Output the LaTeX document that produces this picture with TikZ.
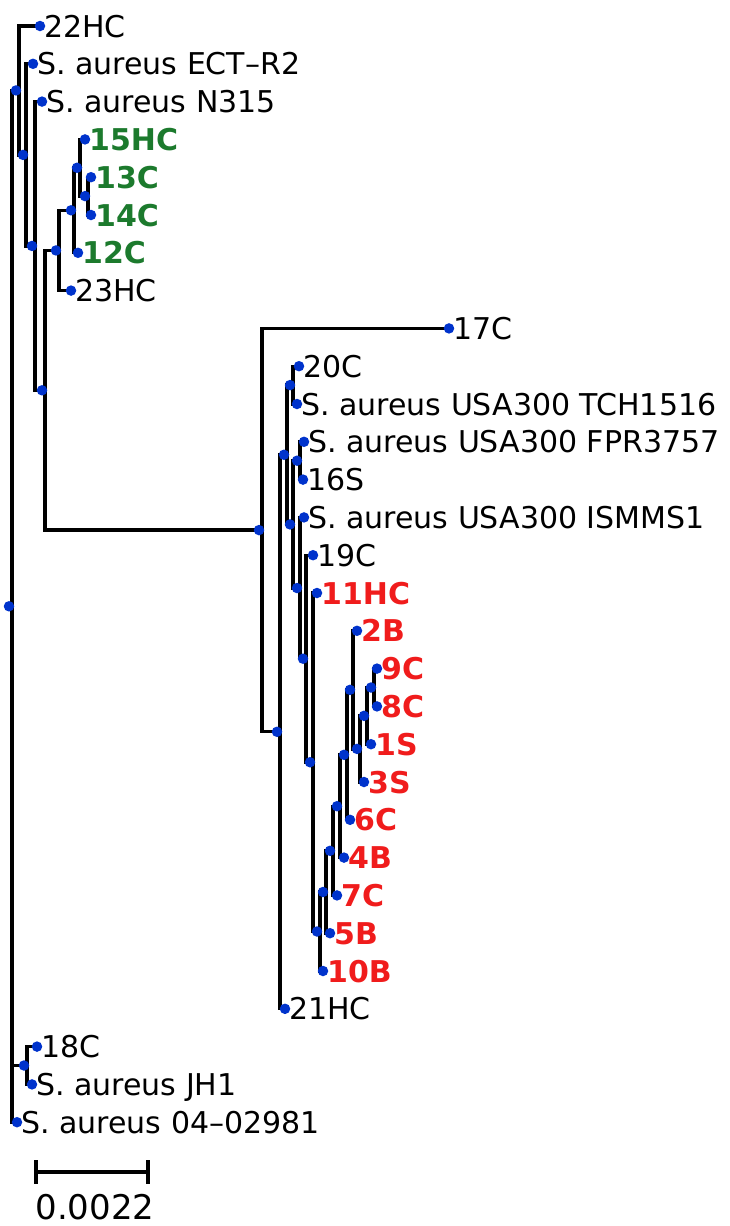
\documentclass[tikz,border=0pt]{standalone}
\usepackage{fontspec}
\setmainfont{DejaVu Sans}
\definecolor{dotblue}{RGB}{0,51,204}
\definecolor{lblgreen}{RGB}{28,122,45}
\definecolor{lblred}{RGB}{240,28,28}
\tikzset{
  branch/.style={line width=3.3pt, line join=miter, black},
  tdot/.style={circle, fill=dotblue, inner sep=0pt, minimum size=10.5pt},
  lbl/.style={anchor=base west, inner sep=0pt, text=black, font=\fontsize{30}{36}\selectfont},
  glbl/.style={lbl, text=lblgreen, font=\fontsize{30}{36}\selectfont\bfseries},
  rlbl/.style={lbl, text=lblred, font=\fontsize{30}{36}\selectfont\bfseries},
}
\begin{document}
\begin{tikzpicture}[x=1pt,y=-1pt]
\useasboundingbox (0,0) rectangle (730,1226);
% internal nodes (position of their vertical line)
\coordinate (root) at (12,606.3);
\coordinate (n22) at (19,90.45);
\coordinate (nQ) at (26,154.9);
\coordinate (nP) at (35,245.95);
\coordinate (nN) at (45,390.3);
\coordinate (n23) at (59,250.45);
\coordinate (n12) at (74,210.3);
\coordinate (n15) at (80,167.75);
\coordinate (n1314) at (88,196.1);
\coordinate (B0) at (262,530.1);
\coordinate (B1) at (280,731.8);
\coordinate (B2) at (287,454.75);
\coordinate (T1) at (293,385.1);
\coordinate (B3) at (293,524.4);
\coordinate (T2) at (300,460.7);
\coordinate (B4) at (300,588.05);
\coordinate (B5) at (306,658.7);
\coordinate (B6) at (313,762.25);
\coordinate (B7) at (320,931.5);
\coordinate (B8) at (326,892);
\coordinate (B9) at (333,850.8);
\coordinate (B10) at (340,806.2);
\coordinate (B11) at (347,754.8);
\coordinate (B12) at (353,689.85);
\coordinate (B13) at (360,748.9);
\coordinate (B14) at (367,715.85);
\coordinate (B15) at (374,687.5);
\coordinate (nR) at (27,1065.5);
% leaves
\coordinate (L22HC) at (40,26);
\coordinate (Lect) at (33,63.8);
\coordinate (Ln315) at (42,101.6);
\coordinate (L15HC) at (85,139.4);
\coordinate (L13C) at (91,177.2);
\coordinate (L14C) at (91,215);
\coordinate (L12C) at (78,252.8);
\coordinate (L23HC) at (71,290.6);
\coordinate (L17C) at (449,328.4);
\coordinate (L20C) at (299,366.2);
\coordinate (Ltch) at (297,404);
\coordinate (Lfpr) at (304,441.8);
\coordinate (L16S) at (303,479.6);
\coordinate (Lism) at (304,517.4);
\coordinate (L19C) at (313,555.2);
\coordinate (L11HC) at (317,593);
\coordinate (L2B) at (357,630.8);
\coordinate (L9C) at (377,668.6);
\coordinate (L8C) at (377,706.4);
\coordinate (L1S) at (371,744.2);
\coordinate (L3S) at (364,782);
\coordinate (L6C) at (350,819.8);
\coordinate (L4B) at (344,857.6);
\coordinate (L7C) at (337,895.4);
\coordinate (L5B) at (330,933.2);
\coordinate (L10B) at (323,971);
\coordinate (L21HC) at (285,1008.8);
\coordinate (L18C) at (37,1046.6);
\coordinate (Ljh1) at (32,1084.4);
\coordinate (L0402) at (17,1122.2);
% branches
\foreach \p/\c in {root/n22, root/nR, root/L0402, n22/L22HC, n22/nQ, nQ/Lect, nQ/nP,
  nP/Ln315, nP/nN, nN/n23, nN/B0, n23/n12, n23/L23HC, n12/n15, n12/L12C,
  n15/L15HC, n15/n1314, n1314/L13C, n1314/L14C, B0/L17C, B0/B1, B1/B2, B1/L21HC,
  B2/T1, B2/B3, T1/L20C, T1/Ltch, B3/T2, B3/B4, T2/Lfpr, T2/L16S, B4/Lism, B4/B5,
  B5/L19C, B5/B6, B6/L11HC, B6/B7, B7/B8, B7/L10B, B8/B9, B8/L5B, B9/B10, B9/L7C,
  B10/B11, B10/L4B, B11/B12, B11/L6C, B12/L2B, B12/B13, B13/B14, B13/L3S,
  B14/B15, B14/L1S, B15/L9C, B15/L8C, nR/L18C, nR/Ljh1}
  \draw[branch] (\p) |- (\c);
% dots
\foreach \n in {root,n22,nQ,nP,nN,n23,n12,n15,n1314,B0,B1,B2,T1,B3,T2,B4,B5,B6,B7,B8,B9,B10,B11,B12,B13,B14,B15,nR}
  \node[tdot, xshift=-3pt] (d\n) at (\n) {};
\foreach \n in {L22HC,Lect,Ln315,L15HC,L13C,L14C,L12C,L23HC,L17C,L20C,Ltch,Lfpr,L16S,Lism,L19C,L11HC,L2B,L9C,L8C,L1S,L3S,L6C,L4B,L7C,L5B,L10B,L21HC,L18C,Ljh1,L0402}
  \node[tdot] (d\n) at (\n) {};
% labels
\foreach \n/\t in {L22HC/22HC, Lect/S. aureus ECT–R2, Ln315/S. aureus N315, L23HC/23HC,
  L17C/17C, L20C/20C, Ltch/S. aureus USA300 TCH1516, Lfpr/S. aureus USA300 FPR3757,
  L16S/16S, Lism/S. aureus USA300 ISMMS1, L19C/19C, L21HC/21HC, L18C/18C,
  Ljh1/S. aureus JH1, L0402/S. aureus 04–02981}
  \node[lbl] (t\n) at ([xshift=4pt,yshift=-11pt]\n) {\t};
\foreach \n/\t in {L15HC/15HC, L13C/13C, L14C/14C, L12C/12C}
  \node[glbl] (t\n) at ([xshift=4pt,yshift=-11pt]\n) {\t};
\foreach \n/\t in {L11HC/11HC, L2B/2B, L9C/9C, L8C/8C, L1S/1S, L3S/3S, L6C/6C,
  L4B/4B, L7C/7C, L5B/5B, L10B/10B}
  \node[rlbl] (t\n) at ([xshift=4pt,yshift=-11pt]\n) {\t};
% scale bar
\coordinate (sbA) at (36,1172);
\coordinate (sbB) at (148,1172);
\draw[branch] (sbA) -- (sbB);
\draw[branch] ([yshift=12pt]sbA) -- ([yshift=-12pt]sbA);
\draw[branch] ([yshift=12pt]sbB) -- ([yshift=-12pt]sbB);
\node[anchor=base, inner sep=0pt, font=\fontsize{34}{40}\selectfont] (sbl) at (95,1219) {0.0022};
\end{tikzpicture}
\end{document}
